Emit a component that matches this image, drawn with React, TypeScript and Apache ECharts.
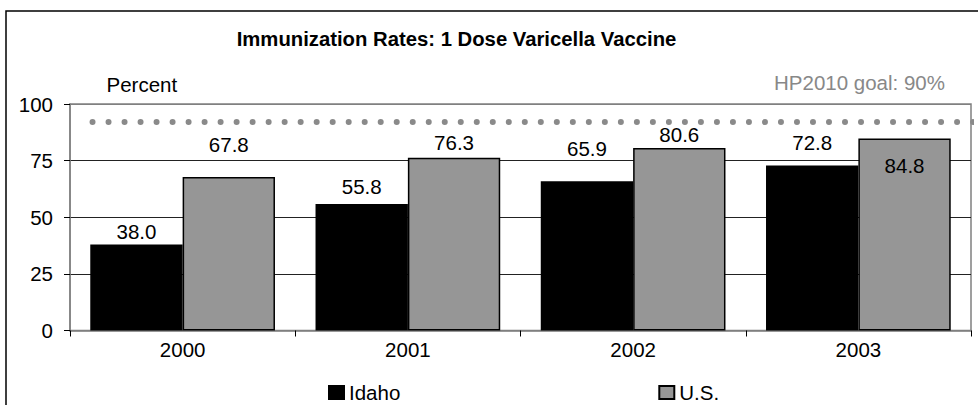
import React, { useEffect, useRef } from "react";
import * as echarts from "echarts";

const categories = ["2000", "2001", "2002", "2003"];
const idahoValues = [38.0, 55.8, 65.9, 72.8];
const usValues = [67.8, 76.3, 80.6, 84.8];
const yMin = 0;
const yMax = 100;
const yInterval = 25;
const goalLineLevel = 92;
const goalLineSpan = [0.1, 4.015];
const titleText = "Immunization Rates: 1 Dose Varicella Vaccine";
const yAxisTitle = "Percent";
const goalText = "HP2010 goal: 90%";
const seriesNames = ["Idaho", "U.S."];
// label gap above bar; negative = inside the top of the bar
const idahoLabelGap = [2, 7, 22, 13];
const usLabelGap = [22, 5, 3, -17];

const FONT = '"Liberation Sans", Arial, Helvetica, sans-serif';
const FS = 20.5;

function buildData(values: number[], gaps: number[]) {
  return values.map((v, i) => {
    const g = gaps[i];
    return {
      value: v,
      label:
        g < 0
          ? { position: "insideTop", distance: -g }
          : { position: "top", distance: g },
    };
  });
}

export default function App() {
  const ref = useRef<HTMLDivElement>(null);
  useEffect(() => {
    if (!ref.current) return;
    const chart = echarts.init(ref.current, undefined, { renderer: "svg" });
    const labelStyle = {
      show: true,
      color: "#000",
      fontSize: FS,
      fontFamily: FONT,
      formatter: (p: any) => Number(p.value).toFixed(1),
    };
    chart.setOption({
      animation: false,
      backgroundColor: "#fff",
      textStyle: { fontFamily: FONT },
      grid: {
        left: 70,
        right: 7,
        top: 104,
        bottom: 74.5,
        show: true,
        borderColor: "#808080",
        borderWidth: 1.5,
        backgroundColor: "transparent",
      },
      legend: {
        data: seriesNames,
        icon: "rect",
        itemWidth: 15,
        itemHeight: 13,
        left: 328,
        top: 382,
        padding: 0,
        itemGap: 258,
        textStyle: { fontSize: FS, color: "#000", fontFamily: FONT },
      },
      xAxis: [
        {
          type: "category",
          data: categories,
          axisLine: { lineStyle: { color: "#808080", width: 1.5 } },
          axisTick: { show: true, length: 6, lineStyle: { color: "#000" } },
          axisLabel: { color: "#000", fontSize: FS, fontFamily: FONT, margin: 8 },
        },
        { type: "value", min: 0, max: categories.length, show: false },
      ],
      yAxis: {
        type: "value",
        min: yMin,
        max: yMax,
        interval: yInterval,
        axisLine: { show: true, lineStyle: { color: "#808080", width: 1.5 } },
        axisTick: { show: true, length: 6, lineStyle: { color: "#000" } },
        axisLabel: { color: "#000", fontSize: FS, fontFamily: FONT, margin: 17 },
        splitLine: {
          show: true,
          lineStyle: {
            color: ["#808080", "#222", "#222", "#222", "#808080"],
            width: 1,
          },
        },
      },
      series: [
        {
          name: seriesNames[0],
          type: "bar",
          data: buildData(idahoValues, idahoLabelGap),
          barGap: "0%",
          barCategoryGap: "18%",
          itemStyle: { color: "#000", borderColor: "#000", borderWidth: 1.5 },
          label: labelStyle,
        },
        {
          name: seriesNames[1],
          type: "bar",
          data: buildData(usValues, usLabelGap),
          barGap: "0%",
          barCategoryGap: "18%",
          itemStyle: { color: "#969696", borderColor: "#000", borderWidth: 1.5 },
          label: labelStyle,
        },
        {
          name: "goal",
          type: "line",
          xAxisIndex: 1,
          data: goalLineSpan.map((x) => [x, goalLineLevel]),
          symbol: "none",
          clip: false,
          silent: true,
          lineStyle: {
            color: "#8a8a8a",
            width: 6,
            type: [0.01, 16],
            cap: "round",
          },
        },
      ],
      graphic: [
        {
          type: "rect",
          shape: { x: 6, y: 11, width: 1000, height: 500 },
          style: { fill: "none", stroke: "#000", lineWidth: 1.5 },
          silent: true,
        },
        {
          type: "text",
          x: 456.5,
          y: 39,
          style: {
            text: titleText,
            fill: "#000",
            font: `bold ${20.3}px ${FONT}`,
            textAlign: "center",
            textVerticalAlign: "middle",
          },
        },
        {
          type: "text",
          x: 106.5,
          y: 84,
          style: {
            text: yAxisTitle,
            fill: "#000",
            font: `${FS}px ${FONT}`,
            textAlign: "left",
            textVerticalAlign: "middle",
          },
        },
        {
          type: "text",
          x: 945,
          y: 82,
          style: {
            text: goalText,
            fill: "#888",
            font: `${FS}px ${FONT}`,
            textAlign: "right",
            textVerticalAlign: "middle",
          },
        },
      ],
    });
    return () => chart.dispose();
  }, []);
  return (
    <div
      ref={ref}
      style={{ position: "fixed", left: 0, top: 0, width: 978, height: 405 }}
    />
  );
}
